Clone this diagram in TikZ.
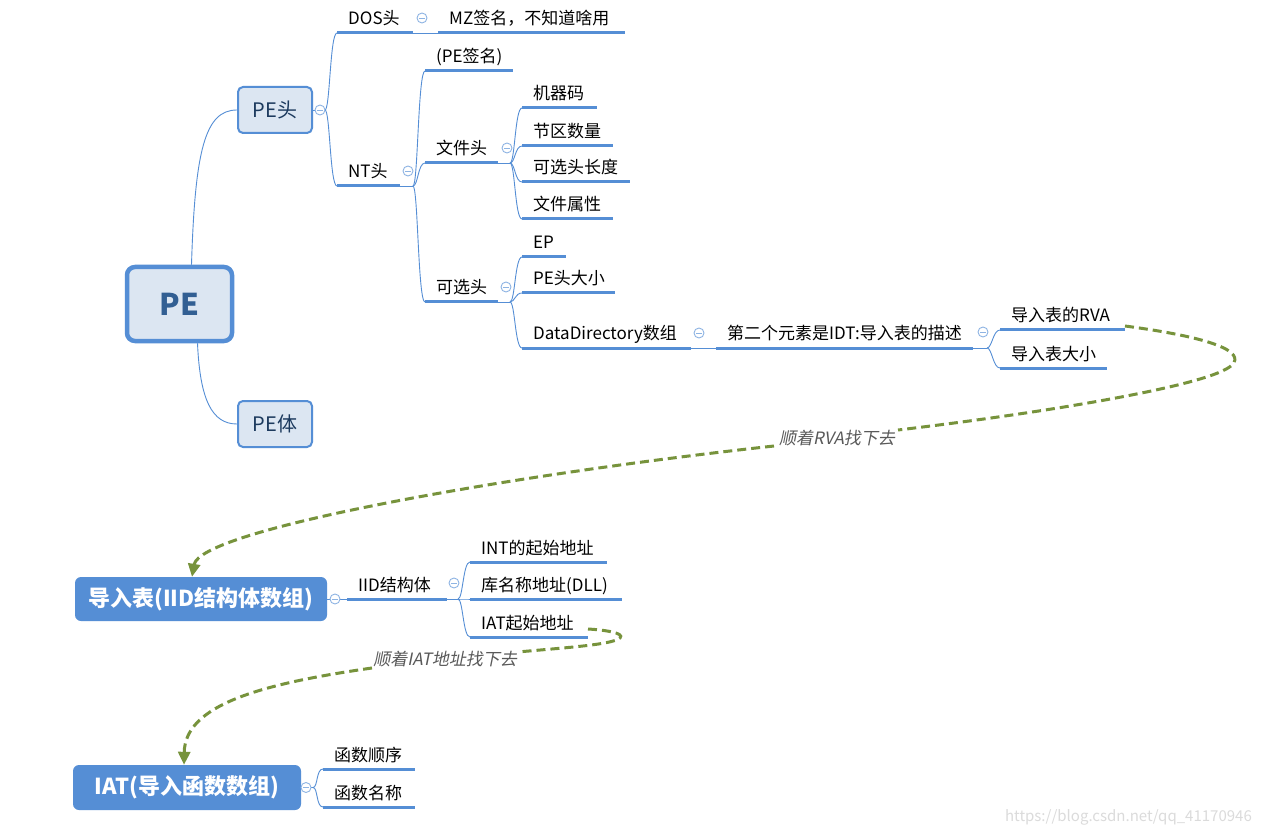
\documentclass[tikz,border=0pt]{standalone}
\usepackage{fontspec}
\setmainfont{Noto Sans CJK SC}
\newfontfamily\slfont[FakeSlant=0.2]{Noto Sans CJK SC}
\usetikzlibrary{arrows.meta}
\definecolor{lineblue}{HTML}{558ED5}
\definecolor{foldblue}{HTML}{8EB4E3}
\definecolor{boxfill}{HTML}{DCE6F2}
\definecolor{roottext}{HTML}{325F93}
\definecolor{headtext}{HTML}{1C3A5E}
\definecolor{olivec}{HTML}{77933C}
\definecolor{lblgray}{HTML}{595959}
\newcommand\tpc[5]{%
  \coordinate (#1L) at (#2,#4);
  \coordinate (#1R) at (#3,#4);
  \draw[uline] (#1L) -- (#1R);
  \node[topic] (#1) at (#2+11,#4-8) {#5};}
\newcommand\brn[2]{\draw[thinl] (#1) .. controls +(5,0) and +(-7,0) .. (#2);}
\begin{document}
\begin{tikzpicture}[x=1pt,y=-1pt,
  topic/.style={anchor=base west, inner sep=0pt, font=\fontsize{17}{19}\selectfont, text=black},
  uline/.style={draw=lineblue, line width=3pt},
  thinl/.style={draw=lineblue, line width=0.9pt},
  fold/.style={circle, draw=foldblue, fill=white, line width=0.9pt, minimum size=10pt, inner sep=0pt,
    path picture={\draw[foldblue, line width=0.8pt] ([xshift=-2.6pt]path picture bounding box.center) -- ([xshift=2.6pt]path picture bounding box.center);}},
  rootbox/.style={draw=lineblue, line width=4.5pt, fill=boxfill, rounded corners=8pt, minimum width=105pt, minimum height=74pt, inner sep=0pt, text=roottext, font=\fontsize{30}{34}\selectfont\bfseries},
  subbox/.style={draw=lineblue, line width=2pt, fill=boxfill, rounded corners=5pt, minimum width=74pt, minimum height=46pt, inner sep=0pt, text=headtext, font=\fontsize{20}{24}\selectfont},
  bluebox/.style={fill=lineblue, rounded corners=6pt, inner sep=0pt, text=white, font=\fontsize{22}{26}\selectfont\bfseries},
  flow/.style={draw=olivec, line width=3pt, dash pattern=on 9pt off 5pt},
  flowtip/.style={-{Triangle[length=13pt,width=12pt]}},
  flowlbl/.style={inner sep=0pt, text=lblgray, font=\slfont\fontsize{17}{19}\selectfont}
]
\useasboundingbox (0,0) rectangle (1261,834);
\fill[white] (0,0) rectangle (1261,834);

% main boxes
\node[rootbox] (pe) at (179.5,304) {PE};
\node[subbox] (pehead) at (275,110) {PE头};
\node[subbox] (pebody) at (275,424) {PE体};
\node[bluebox, minimum width=252pt, minimum height=44pt] (imp) at (201,599) {导入表(IID结构体数组)};
\node[bluebox, minimum width=228pt, minimum height=45pt] (iatbox) at (187,787.5) {IAT(导入函数数组)};

% root connectors
\draw[thinl] ([xshift=12pt]pe.north) .. controls (195,150) and (205,110) .. (pehead.west);
\draw[thinl] ([xshift=18pt]pe.south) .. controls (200,400) and (212,424) .. (pebody.west);

% topics
\tpc{dos}{337}{413}{33}{DOS头}
\tpc{mz}{438}{625}{33}{MZ签名，不知道啥用}
\tpc{nt}{337}{400}{186}{NT头}
\tpc{pesig}{425}{513}{71}{(PE签名)}
\tpc{fh}{425}{498}{163}{文件头}
\tpc{oh}{425}{498}{302}{可选头}
\tpc{mach}{522}{597}{108}{机器码}
\tpc{nsec}{522}{613}{146}{节区数量}
\tpc{ohlen}{522}{630}{182}{可选头长度}
\tpc{fattr}{522}{613}{219}{文件属性}
\tpc{ep}{522}{566}{257}{EP}
\tpc{pesz}{522}{615}{293}{PE头大小}
\tpc{dd}{522}{691}{348}{DataDirectory数组}
\tpc{idt}{716}{973}{348}{第二个元素是IDT:导入表的描述}
\tpc{rva}{1000}{1125}{330}{导入表的RVA}
\tpc{isz}{1000}{1107}{368}{导入表大小}
\tpc{iid}{347}{447}{599}{IID结构体}
\tpc{int}{470}{607}{562}{INT的起始地址}
\tpc{dll}{470}{622}{599}{库名称地址(DLL)}
\tpc{iat}{470}{588}{637}{IAT起始地址}
\tpc{fo}{323}{415}{769}{函数顺序}
\tpc{fn}{323}{415}{807}{函数名称}

% junctions
\coordinate (j1) at (325,110);
\coordinate (j2) at (413,186);
\coordinate (j3) at (510,163);
\coordinate (j4) at (510,302);
\coordinate (j5) at (987,348);
\coordinate (j6) at (458,599);
\coordinate (j7) at (313,787.5);

% thin connectors
\draw[thinl] (pehead.east) -- (j1);
\brn{j1}{dosL}
\brn{j1}{ntL}
\draw[thinl] (dosR) -- (mzL);
\draw[thinl] (ntR) -- (j2);
\brn{j2}{pesigL}
\brn{j2}{fhL}
\brn{j2}{ohL}
\draw[thinl] (fhR) -- (j3);
\brn{j3}{machL}
\brn{j3}{nsecL}
\brn{j3}{ohlenL}
\brn{j3}{fattrL}
\draw[thinl] (ohR) -- (j4);
\brn{j4}{epL}
\brn{j4}{peszL}
\brn{j4}{ddL}
\draw[thinl] (ddR) -- (idtL);
\draw[thinl] (idtR) -- (j5);
\brn{j5}{rvaL}
\brn{j5}{iszL}
\draw[thinl] (imp.east) -- (iidL);
\draw[thinl] (iidR) -- (j6);
\brn{j6}{intL}
\brn{j6}{dllL}
\brn{j6}{iatL}
\draw[thinl] (iatbox.east) -- (j7);
\brn{j7}{foL}
\brn{j7}{fnL}

% fold markers
\node[fold] (f1) at (320,110) {};
\node[fold] (f2) at (422,18) {};
\node[fold] (f3) at (408,171) {};
\node[fold] (f4) at (507,148) {};
\node[fold] (f5) at (506,287) {};
\node[fold] (f6) at (699,333) {};
\node[fold] (f7) at (983,332) {};
\node[fold] (f8) at (335,599) {};
\node[fold] (f9) at (454,583) {};
\node[fold] (f10) at (306,787.5) {};

% flow arrows
\node[flowlbl] (l1) at (837,438) {顺着RVA找下去};
\coordinate (l1e) at (898,430);
\coordinate (l1w) at (774,446);
\draw[flow] ([yshift=4pt]rvaR) .. controls (1215,338) and (1245,352) .. (1232,365)
  .. controls (1212,385) and (1050,412) .. (l1e);
\draw[flow, flowtip] (l1w) .. controls (500,476) and (200,530) .. ([xshift=-9pt]imp.north);

\node[flowlbl] (l2) at (445,659) {顺着IAT地址找下去};
\coordinate (l2e) at (518,652);
\coordinate (l2w) at (372,668);
\draw[flow] ([yshift=8pt]iatR) .. controls (605,630) and (625,633) .. (620,638)
  .. controls (612,645) and (560,648) .. (l2e);
\draw[flow, flowtip] (l2w) .. controls (260,684) and (185,705) .. ([xshift=-3pt]iatbox.north);

% watermark
\node[inner sep=0pt, anchor=base east, text=black!14, font=\fontsize{15}{17}\selectfont] (wm) at (1252,821) {https://blog.csdn.net/qq\_41170946};
\end{tikzpicture}
\end{document}
